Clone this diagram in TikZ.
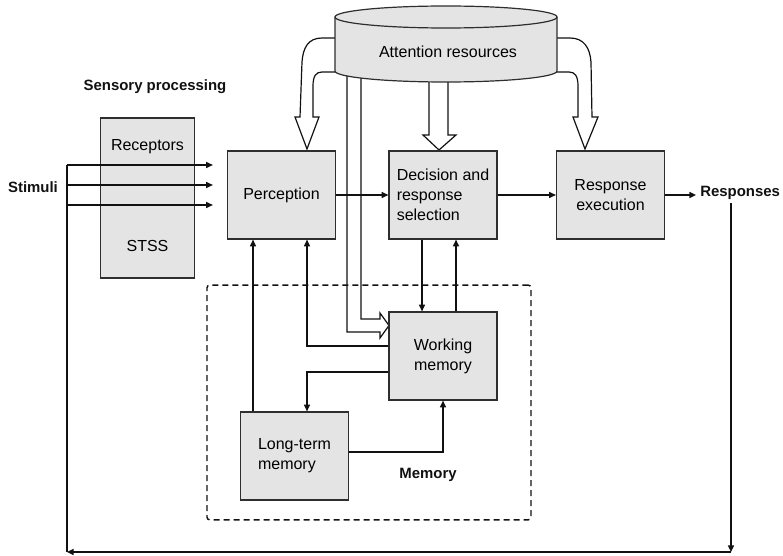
\documentclass[tikz,border=0pt]{standalone}
\usepackage{fontspec}
\setmainfont{Liberation Sans}
\usetikzlibrary{arrows.meta,calc}
\definecolor{Ink}{HTML}{111111}
\definecolor{Edge}{HTML}{2E2E2E}
\definecolor{Shade}{HTML}{E4E4E4}
\tikzset{box/.style={draw=Edge,fill=Shade,line width=.9pt,minimum width=81pt,minimum height=66pt,align=center,font=\fontsize{12}{15}\selectfont,inner sep=2pt},flow/.style={-{Triangle[length=5pt,width=4.5pt]},line width=1.1pt,draw=Ink},wire/.style={line width=1.1pt,draw=Ink},lab/.style={font=\fontsize{11.2}{13}\selectfont\bfseries,text=Ink,inner sep=1pt}}

\begin{document}
\begin{tikzpicture}[
  x=.75pt,y=-.75pt,
  hollow/.style={draw=Ink,line width=.9pt,line join=miter},
  txt/.style={font=\fontsize{12}{15}\selectfont,inner sep=1pt}
]
\useasboundingbox (0,0) rectangle (783,556);

% attention resources and its hollow arrows
\draw[hollow,fill=white] (340,38) -- (322,38) .. controls (308,38) and (303,48) .. (302,62)
  -- (300,117) -- (295,117) -- (307,149) -- (319,117) -- (313,117) -- (313,86)
  .. controls (313,76) and (316,72) .. (322,72) -- (340,72);
\draw[hollow,fill=white] (552,38) -- (570,38) .. controls (584,38) and (590,48) .. (591,62)
  -- (592,117) -- (598,117) -- (585,149) -- (573,117) -- (578,117) -- (578,86)
  .. controls (578,76) and (575,72) .. (569,72) -- (552,72);
\draw[hollow] (429,70) -- (429,135) -- (423,135) -- (439,150) -- (456,135) -- (448,135) -- (448,70);
\draw[hollow] (347,70) -- (347,332) -- (380,332) -- (380,338) -- (389,325.5) -- (380,313) -- (380,319) -- (361,319) -- (361,70);
\filldraw[draw=Edge,fill=Shade,line width=.9pt] (335,17) -- (335,71)
  arc[start angle=180,end angle=0,x radius=111,y radius=11] -- (557,17);
\filldraw[draw=Edge,fill=Shade,line width=.9pt] (446,17) ellipse[x radius=111,y radius=11];
\node[txt] (attn) at (448,52) {Attention resources};

\node[draw=Ink,line width=1.1pt,dash pattern=on 4.5pt off 3pt,rounded corners=2pt,
  minimum width=243pt,minimum height=176pt] (mem) at (369,402.5) {};

\node[box,minimum width=70pt,minimum height=120pt] (sens) at (147.5,198) {};
\node[txt] (rec) at (147.5,147) {Receptors};
\node[txt] (stss) at (147.5,246) {STSS};
\node[box] (perc) at (281.5,195) {Perception};
\node[box,align=left] (dec) at (443,195) {Decision and\\response\\selection};
\node[box] (rex) at (610.5,195) {Response\\execution};
\node[box] (wm) at (443,356) {Working\\memory};
\node[box,align=left] (ltm) at (294.5,456) {Long-term\\memory};

\node[lab] (sensl) at (155,87) {Sensory processing};
\node[lab] (stim) at (33,187) {Stimuli};
\node[lab,anchor=west,inner sep=0pt] (resps) at (700,193) {Responses};
\node[lab] (meml) at (428,475) {Memory};

\coordinate (fbR) at (731,552);
\coordinate (fbL) at (67,552);
\coordinate (bus) at (67,165);

\draw[flow] (perc) -- (dec);
\draw[flow] (dec) -- (rex);
\draw[flow] (rex) -- ($(rex -| resps.west)+(-4,0)$);
\draw[flow] ($(resps.south -| fbR)+(0,3)$) -- (fbR);
\draw[flow] (fbR) -- (fbL);
\draw[wire] (fbL) -- (bus);
\foreach \dy in {0,20,40}
  \draw[flow] ($(bus)+(0,\dy)$) -- ($(perc.west)+(-14,\dy-30)$);

\draw[flow] ($(dec.south)+(-21,0)$) -- ($(wm.north)+(-21,0)$);
\draw[flow] ($(wm.north)+(13,0)$) -- ($(dec.south)+(13,0)$);
\draw[flow] ($(wm.west)+(0,-10)$) -| ($(perc.south)+(25.5,0)$);
\draw[flow] ($(wm.west)+(0,16)$) -| ($(ltm.north)+(12.5,0)$);
\draw[flow] ($(ltm.north)+(-41.5,0)$) -- ($(perc.south)+(-28.5,0)$);
\draw[flow] ($(ltm.east)+(0,-4)$) -| (wm.south);
\end{tikzpicture}
\end{document}
